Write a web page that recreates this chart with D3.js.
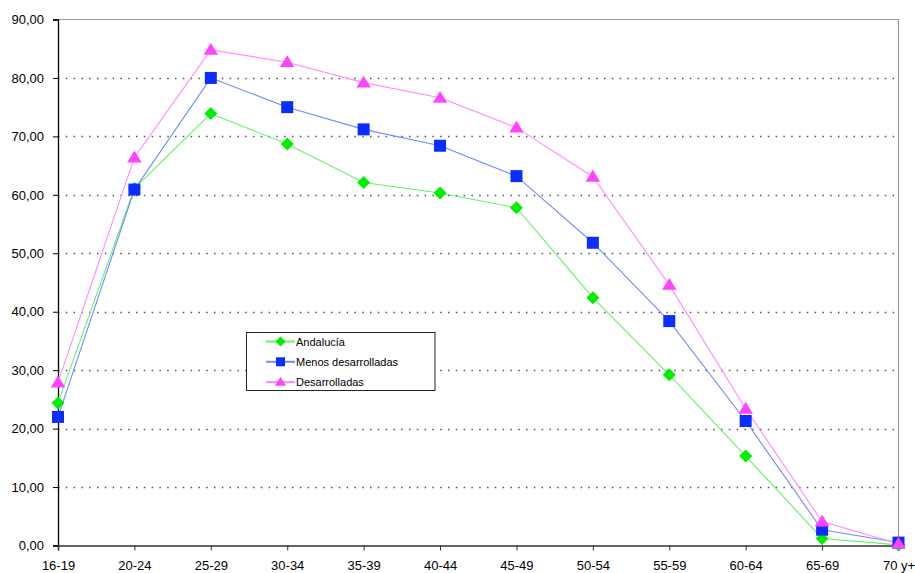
<!DOCTYPE html>
<html>
<head>
<meta charset="utf-8">
<script src="https://cdn.jsdelivr.net/npm/d3@7"></script>
<style>
  html, body { margin: 0; padding: 0; background: #fff; }
  svg { display: block; font-family: Arial, "Liberation Sans", sans-serif; }
</style>
</head>
<body>
<svg id="chart" width="915" height="573"></svg>
<script>
// Age groups on the x axis
const categories = ["16-19", "20-24", "25-29", "30-34", "35-39", "40-44",
                    "45-49", "50-54", "55-59", "60-64", "65-69", "70 y+"];

// Activity rates by age group
const andalucia = [24.4, 61.1, 73.9, 68.7, 62.1, 60.3, 57.8, 42.4, 29.2, 15.3, 1.2, 0.1];
const menosDesarrolladas = [22.0, 60.9, 80.0, 75.0, 71.2, 68.4, 63.2, 51.8, 38.4, 21.3, 2.7, 0.5];
const desarrolladas = [27.9, 66.4, 84.8, 82.7, 79.2, 76.6, 71.5, 63.1, 44.6, 23.4, 4.1, 0.3];

const yTicks = [0, 10, 20, 30, 40, 50, 60, 70, 80, 90];

const series = [
  { name: "Andalucía", values: andalucia, line: "#66f266", fill: "#00ee00", shape: "diamond" },
  { name: "Menos desarrolladas", values: menosDesarrolladas, line: "#6f8cff", fill: "#0a2eff", shape: "square" },
  { name: "Desarrolladas", values: desarrolladas, line: "#ff8cff", fill: "#ff44ff", shape: "triangle" }
];

const svg = d3.select("#chart");
const plotLeft = 58, plotRight = 898.5, plotTop = 19.5, plotBottom = 545.5;

const x = d3.scalePoint().domain(categories).range([plotLeft, plotRight]);
const y = d3.scaleLinear().domain([0, 90]).range([plotBottom, plotTop]);
const fmt = v => d3.format(".2f")(v).replace(".", ",");

// Dotted horizontal gridlines
svg.append("g").selectAll("line")
  .data(yTicks.filter(v => v > 0 && v < 90))
  .join("line")
  .attr("x1", plotLeft).attr("x2", plotRight)
  .attr("y1", d => Math.round(y(d)) + 0.5).attr("y2", d => Math.round(y(d)) + 0.5)
  .attr("stroke", "#555").attr("stroke-width", 1.3)
  .attr("stroke-dasharray", "1.5,6.3");

// Plot area frame (top and right)
svg.append("path")
  .attr("d", `M${plotLeft},${plotTop}H${plotRight}V${plotBottom}`)
  .attr("fill", "none").attr("stroke", "#999").attr("stroke-width", 1.2);

// Y axis
const yAxis = svg.append("g")
  .attr("transform", `translate(${plotLeft},0)`)
  .call(d3.axisLeft(y).tickValues(yTicks).tickFormat(fmt).tickSize(5).tickPadding(9));
yAxis.select(".domain").attr("stroke", "#000").attr("stroke-width", 1.3);
yAxis.selectAll(".tick line").attr("stroke", "#000");
yAxis.selectAll("text").attr("font-size", 13).attr("fill", "#000")
  .attr("font-family", "Arial, 'Liberation Sans', sans-serif");

// X axis
const xAxis = svg.append("g")
  .attr("transform", `translate(0,${plotBottom})`)
  .call(d3.axisBottom(x).tickSize(5).tickPadding(10));
xAxis.select(".domain").attr("stroke", "#333").attr("stroke-width", 1.6);
xAxis.selectAll(".tick line").attr("stroke", "#333");
xAxis.selectAll("text").attr("font-size", 13).attr("fill", "#000")
  .attr("font-family", "Arial, 'Liberation Sans', sans-serif");

// Marker shapes
function markerPath(shape, s) {
  if (shape === "diamond") return `M0,${-s}L${s},0L0,${s}L${-s},0Z`;
  if (shape === "square") return `M${-s},${-s}H${s}V${s}H${-s}Z`;
  return `M0,${-s * 1.05}L${s * 1.1},${s * 0.75}L${-s * 1.1},${s * 0.75}Z`;
}
const markerSize = { diamond: 6.5, square: 6, triangle: 6.6 };

const line = d3.line().x((d, i) => x(categories[i])).y(d => y(d));

// Lines first, then markers on top
series.forEach(s => {
  svg.append("path")
    .datum(s.values)
    .attr("d", line)
    .attr("fill", "none")
    .attr("stroke", s.line)
    .attr("stroke-width", 1.1);
});
series.forEach(s => {
  svg.append("g").selectAll("path")
    .data(s.values)
    .join("path")
    .attr("transform", (d, i) => `translate(${x(categories[i])},${y(d)})`)
    .attr("d", markerPath(s.shape, markerSize[s.shape]))
    .attr("fill", s.fill);
});

// Legend
const lg = svg.append("g").attr("transform", "translate(246.5,332.5)");
lg.append("rect").attr("width", 188.5).attr("height", 58)
  .attr("fill", "#fff").attr("stroke", "#222").attr("stroke-width", 1);
series.forEach((s, i) => {
  const cy = 9 + i * 20.3;
  const row = lg.append("g").attr("transform", `translate(0,${cy})`);
  row.append("line").attr("x1", 19.5).attr("x2", 48.5).attr("y1", 0).attr("y2", 0)
    .attr("stroke", s.line).attr("stroke-width", 2);
  row.append("path").attr("transform", "translate(34,0)")
    .attr("d", markerPath(s.shape, s.shape === "square" ? 4.5 : 5))
    .attr("fill", s.fill);
  row.append("text").attr("x", 49.5).attr("y", 4).attr("font-size", 11)
    .attr("fill", "#000").text(s.name);
});
</script>
</body>
</html>
